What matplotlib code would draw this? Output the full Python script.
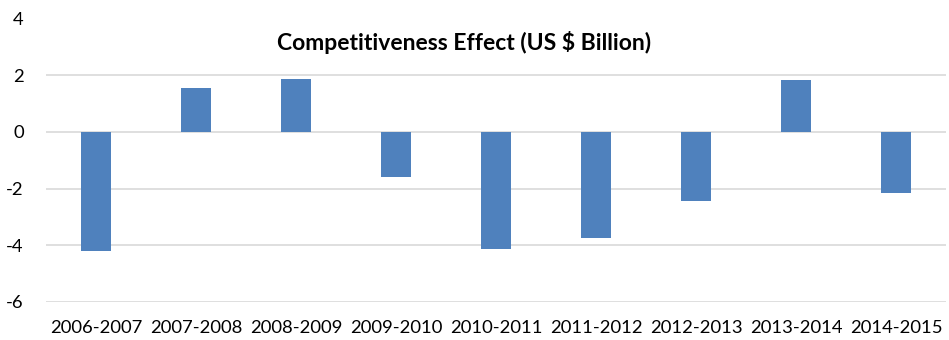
import matplotlib
matplotlib.use("Agg")
import matplotlib.pyplot as plt

periods = ["2006-2007", "2007-2008", "2008-2009", "2009-2010", "2010-2011",
           "2011-2012", "2012-2013", "2013-2014", "2014-2015"]
effect = [-4.19, 1.56, 1.85, -1.6, -4.13, -3.73, -2.44, 1.82, -2.16]

plt.rcParams['font.family'] = ['Lato', 'DejaVu Sans']
plt.rcParams['axes.unicode_minus'] = False

fig = plt.figure(figsize=(9.49, 3.4), dpi=100)
ax = fig.add_axes([46 / 949, 1 - 302 / 340, 900 / 949, (302 - 18.5) / 340])

ax.bar(range(len(periods)), effect, width=0.3, color="#4F81BD", zorder=3)

ax.set_xlim(-0.5, len(periods) - 0.5)
ax.set_ylim(-6, 4)
ax.set_yticks([-6, -4, -2, 0, 2, 4])
ax.set_xticks(range(len(periods)))
ax.set_xticklabels(periods)
ax.tick_params(axis="both", length=0, labelsize=13.3, colors="#000000")
ax.tick_params(axis="x", pad=13)
ax.tick_params(axis="y", pad=16)

ax.grid(axis="y", color="#D9D9D9", linewidth=1.2, zorder=0)
for s in ax.spines.values():
    s.set_visible(False)

fig.text(464 / 949, 1 - 43 / 340, "Competitiveness Effect (US $ Billion)",
         ha="center", va="center", fontsize=16.5, fontweight="bold")

fig.savefig("out.png", dpi=100)
